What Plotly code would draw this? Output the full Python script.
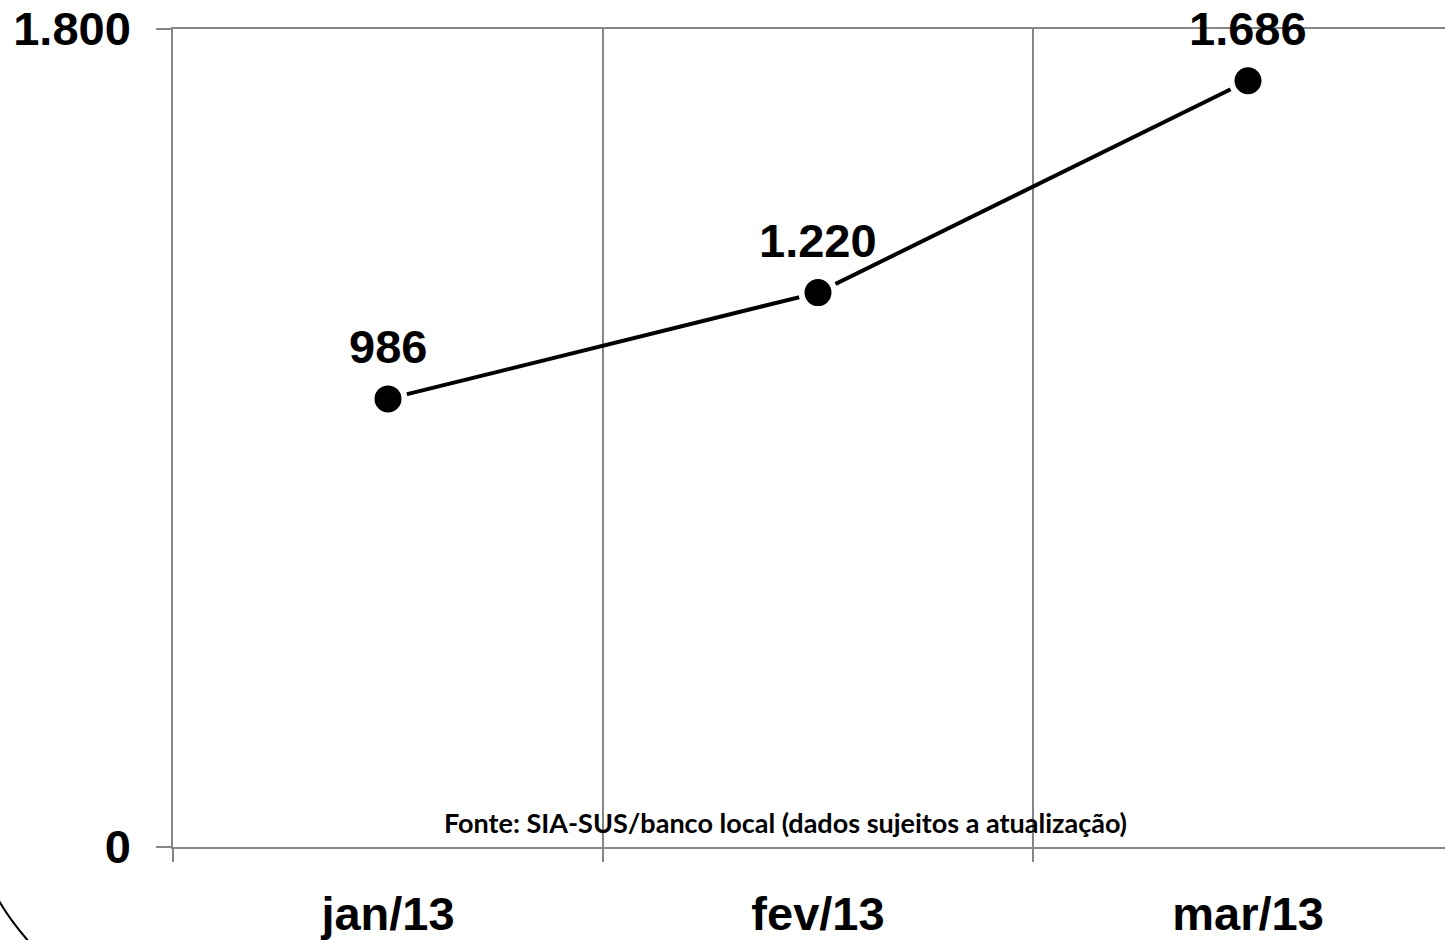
import plotly.graph_objects as go

categories = ["jan/13", "fev/13", "mar/13"]
values = [986, 1220, 1686]
value_labels = ["986", "1.220", "1.686"]
y_tick_vals = [0, 1800]
y_tick_text = ["0", "1.800"]
source_note = "Fonte: SIA-SUS/banco local (dados sujeitos a atualização)"

W, H = 1445, 940
ML, MR, MT, MB = 173, 0, 29, 93
pw, ph = W - ML - MR, H - MT - MB

def px_to_paper(px, py):
    return (px - ML) / pw, (H - MB - py) / ph

fig = go.Figure()
fig.add_trace(go.Scatter(
    x=categories, y=values, mode="lines+markers",
    line=dict(color="black", width=4),
    marker=dict(color="black", size=33, line=dict(color="white", width=6)),
    hoverinfo="skip", showlegend=False,
))

for c, v, t in zip(categories, values, value_labels):
    fig.add_annotation(x=c, y=v, text=t, showarrow=False, xanchor="center",
                       yanchor="middle", yshift=52,
                       font=dict(family="Liberation Sans", size=47, color="black", weight="bold"))

sx, sy = px_to_paper(785, 822)
fig.add_annotation(x=sx, y=sy, xref="paper", yref="paper", text=f"<b>{source_note}</b>",
                   showarrow=False, xanchor="center", yanchor="middle",
                   font=dict(family="Lato", size=27, color="black"))

# decorative arc at bottom-left
p0 = px_to_paper(-2, 899)
p1 = px_to_paper(9, 919)
p2 = px_to_paper(30, 943)
fig.add_shape(type="path", xref="paper", yref="paper",
              path=f"M {p0[0]},{p0[1]} Q {p1[0]},{p1[1]} {p2[0]},{p2[1]}",
              line=dict(color="black", width=2))

xmax = -0.5 + pw / 430.0
fig.update_xaxes(
    type="category", range=[-0.5, xmax], tickson="boundaries", automargin=False,
    showgrid=True, gridcolor="#868686", gridwidth=1.5,
    showline=True, mirror=True, linecolor="#868686", linewidth=1.5,
    ticks="outside", ticklen=13, tickcolor="#868686", tickwidth=1.5,
    ticklabelstandoff=25,
    tickfont=dict(family="Liberation Sans", size=47, color="black", weight="bold"),
    zeroline=False,
)
fig.update_yaxes(
    range=[0, 1800], tickvals=y_tick_vals, ticktext=y_tick_text, automargin=False,
    showgrid=True, gridcolor="#868686", gridwidth=1.5,
    showline=True, linecolor="#868686", linewidth=1.5,
    ticks="outside", ticklen=15, tickcolor="#868686", tickwidth=1.5,
    ticklabelstandoff=16,
    tickfont=dict(family="Liberation Sans", size=47, color="black", weight="bold"),
    zeroline=False,
)
fig.update_layout(
    width=W, height=H, margin=dict(l=ML, r=MR, t=MT, b=MB, pad=0, autoexpand=False),
    plot_bgcolor="white", paper_bgcolor="white",
)
fig.write_html("out.html", config={"displayModeBar": False},
               post_script="document.body.style.margin='0';document.body.style.overflow='hidden';")
